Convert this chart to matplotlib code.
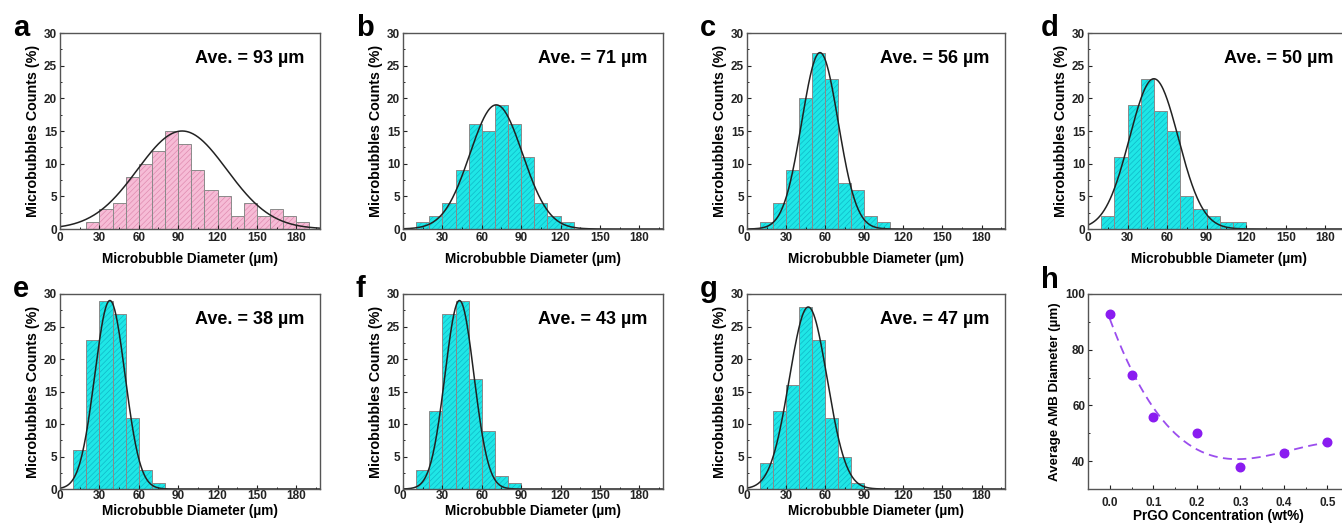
import numpy as np
import matplotlib
matplotlib.use("Agg")
import matplotlib.pyplot as plt

plt.rcParams['font.family'] = ['Liberation Sans', 'DejaVu Sans']
plt.rcParams['font.weight'] = 'bold'
plt.rcParams['hatch.linewidth'] = 0.5

# ---------------- data ----------------
bin_width = 10
a_start, a_counts = 20, [1, 3, 4, 8, 10, 12, 15, 13, 9, 6, 5, 2, 4, 2, 3, 2, 1]
b_start, b_counts = 10, [1, 2, 4, 9, 16, 15, 19, 16, 11, 4, 2, 1]
c_start, c_counts = 10, [1, 4, 9, 20, 27, 23, 7, 6, 2, 1]
d_start, d_counts = 10, [2, 11, 19, 23, 18, 15, 5, 3, 2, 1, 1]
e_start, e_counts = 10, [6, 23, 29, 27, 11, 3, 1]
f_start, f_counts = 10, [3, 12, 27, 29, 17, 9, 2, 1]
g_start, g_counts = 10, [4, 12, 16, 28, 23, 11, 5, 1]

# Gaussian fit parameters: (mean, sigma, peak)
fit_a = (93, 34, 15)
fit_b = (71, 20, 19)
fit_c = (56, 14, 27)
fit_d = (50, 18.5, 23)
fit_e = (38, 11.5, 29)
fit_f = (43, 11, 29)
fit_g = (47, 14.5, 28)

averages = ["93", "71", "56", "50", "38", "43", "47"]
panel_letters = ["a", "b", "c", "d", "e", "f", "g", "h"]

conc = [0.0, 0.05, 0.1, 0.2, 0.3, 0.4, 0.5]
ave_diam = [93, 71, 56, 50, 38, 43, 47]

# ---------------- layout ----------------
W, H = 1342, 523
fig = plt.figure(figsize=(W / 100, H / 100), dpi=100)

def add_ax(l, r, t, b):
    return fig.add_axes([l / W, 1 - b / H, (r - l) / W, (b - t) / H])

row1 = (33, 229)
row2 = (294, 489)
cols = [(60, 320), (403, 663), (747, 1005), (1088, 1349)]

hist_sets = [
    (a_start, a_counts, fit_a, '#f6bcd6', '#e08cb0'),
    (b_start, b_counts, fit_b, '#1fe6e6', '#10b8c8'),
    (c_start, c_counts, fit_c, '#1fe6e6', '#10b8c8'),
    (d_start, d_counts, fit_d, '#1fe6e6', '#10b8c8'),
    (e_start, e_counts, fit_e, '#1fe6e6', '#10b8c8'),
    (f_start, f_counts, fit_f, '#1fe6e6', '#10b8c8'),
    (g_start, g_counts, fit_g, '#1fe6e6', '#10b8c8'),
]

positions = [(cols[0], row1), (cols[1], row1), (cols[2], row1), (cols[3], row1),
             (cols[0], row2), (cols[1], row2), (cols[2], row2), (cols[3], row2)]

tick_fs = 8.5
label_fs = 9.8

def style_axes(ax):
    for s in ax.spines.values():
        s.set_color('#555555')
        s.set_linewidth(1.0)
    ax.tick_params(axis='both', which='major', direction='in', length=3,
                   width=0.8, labelsize=tick_fs, colors='#222222', pad=2)
    ax.tick_params(axis='both', which='minor', direction='in', length=1.5, width=0.6)
    for lab in ax.get_xticklabels() + ax.get_yticklabels():
        lab.set_fontweight('bold')

def panel_letter(i, l, t):
    fig.text((l - 47) / W, 1 - (t + 3) / H, panel_letters[i], fontsize=21,
             fontweight='bold', ha='left', va='baseline')

for i, (start, counts, fit, fc, hc) in enumerate(hist_sets):
    (l, r), (t, b) = positions[i]
    ax = add_ax(l, r, t, b)
    lefts = start + bin_width * np.arange(len(counts))
    bars = ax.bar(lefts, counts, width=bin_width, align='edge', color=fc,
                  edgecolor='#8a8a8a', linewidth=0.7, hatch='//////')
    for bar in bars:
        bar._hatch_color = matplotlib.colors.to_rgba(hc)
    mu, sig, pk = fit
    xs = np.linspace(0, 198, 400)
    ax.plot(xs, pk * np.exp(-(xs - mu) ** 2 / (2 * sig ** 2)), color='#222222', lw=1.1)
    ax.set_xlim(0, 198)
    ax.set_ylim(0, 30)
    ax.set_xticks([0, 30, 60, 90, 120, 150, 180])
    ax.set_xticks(np.arange(15, 198, 15), minor=True)
    ax.set_yticks([0, 5, 10, 15, 20, 25, 30])
    ax.set_yticks(np.arange(2.5, 30, 5), minor=True)
    style_axes(ax)
    second_row = i >= 4
    if second_row:
        ax.tick_params(axis='x', which='major', pad=1)
    ax.set_xlabel('Microbubble Diameter (µm)', fontsize=label_fs, fontweight='bold',
                  labelpad=1 if second_row else 6)
    ax.set_ylabel('Microbubbles Counts (%)', fontsize=10.3, fontweight='bold', labelpad=3)
    ax.text(0.94, 0.87, 'Ave. = %s µm' % averages[i], transform=ax.transAxes,
            ha='right', va='center', fontsize=13, fontweight='bold')
    panel_letter(i, l, t)

# panel h
(l, r), (t, b) = positions[7]
ax = add_ax(l, r, t, b)
coef = np.polyfit(conc, ave_diam, 3)
xs = np.linspace(0, 0.5, 200)
ax.plot(xs, np.polyval(coef, xs), color='#9b4dee', lw=1.3, dashes=(5, 3))
ax.scatter(conc, ave_diam, s=38, color='#8a1cf0', zorder=3)
ax.set_xlim(-0.05, 0.55)
ax.set_ylim(30, 100)
ax.set_xticks([0.0, 0.1, 0.2, 0.3, 0.4, 0.5])
ax.set_xticklabels(['0.0', '0.1', '0.2', '0.3', '0.4', '0.5'])
ax.set_xticks(np.arange(0.05, 0.55, 0.1), minor=True)
ax.set_yticks([40, 60, 80, 100])
ax.set_yticks([50, 70, 90], minor=True)
style_axes(ax)
ax.tick_params(axis='x', which='major', pad=5.5)
ax.set_xlabel('PrGO Concentration (wt%)', fontsize=label_fs, fontweight='bold', labelpad=0.5)
ax.set_ylabel('Average AMB Diameter (µm)', fontsize=9.6, fontweight='bold', labelpad=3)
panel_letter(7, l, t - 9)

fig.savefig('out.png', dpi=100)
